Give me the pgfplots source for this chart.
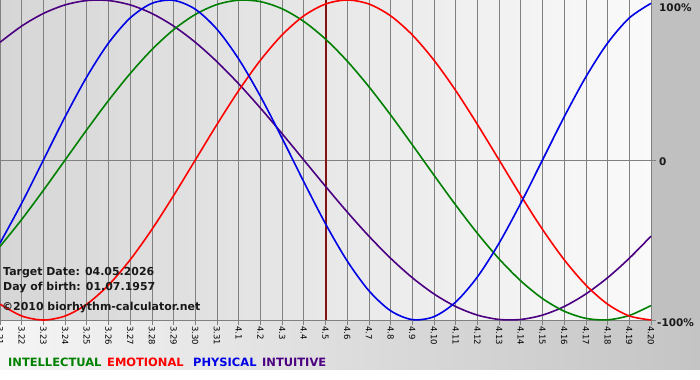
\documentclass[border=0pt]{standalone}
\usepackage{fontspec}
\setmainfont{DejaVu Sans}
\usepackage{pgfplots}
\pgfplotsset{compat=1.18}
\usepackage{pgfplotstable}

\definecolor{intel}{RGB}{0,128,0}
\definecolor{emot}{RGB}{255,0,0}
\definecolor{phys}{RGB}{0,0,230}
\definecolor{intu}{RGB}{75,0,130}
\definecolor{target}{RGB}{130,20,20}
\definecolor{gridc}{RGB}{128,128,128}
\definecolor{bgL}{RGB}{214,214,214}
\definecolor{bgR}{RGB}{250,250,250}
\definecolor{margin}{RGB}{192,192,192}
\definecolor{stripL}{RGB}{245,245,245}
\definecolor{stripR}{RGB}{196,196,196}
\definecolor{txt}{RGB}{25,25,25}

\pgfplotstableread{
i phys emot intel intu
0 -0.5196 -0.9010 -0.5406 0.7357
1 -0.2698 -0.9749 -0.3717 0.8372
2 0.0000 -1.0000 -0.1893 0.9158
3 0.2698 -0.9749 0.0000 0.9694
4 0.5196 -0.9010 0.1893 0.9966
5 0.7308 -0.7818 0.3717 0.9966
6 0.8879 -0.6235 0.5406 0.9694
7 0.9791 -0.4339 0.6901 0.9158
8 0.9977 -0.2225 0.8146 0.8372
9 0.9423 0.0000 0.9096 0.7357
10 0.8170 0.2225 0.9718 0.6142
11 0.6311 0.4339 0.9989 0.4759
12 0.3984 0.6235 0.9898 0.3247
13 0.1362 0.7818 0.9450 0.1646
14 -0.1362 0.9010 0.8660 0.0000
15 -0.3984 0.9749 0.7557 -0.1646
16 -0.6311 1.0000 0.6182 -0.3247
17 -0.8170 0.9749 0.4582 -0.4759
18 -0.9423 0.9010 0.2817 -0.6142
19 -0.9977 0.7818 0.0951 -0.7357
20 -0.9791 0.6235 -0.0951 -0.8372
21 -0.8879 0.4339 -0.2817 -0.9158
22 -0.7308 0.2225 -0.4582 -0.9694
23 -0.5196 0.0000 -0.6182 -0.9966
24 -0.2698 -0.2225 -0.7557 -0.9966
25 0.0000 -0.4339 -0.8660 -0.9694
26 0.2698 -0.6235 -0.9450 -0.9158
27 0.5196 -0.7818 -0.9898 -0.8372
28 0.7308 -0.9010 -0.9989 -0.7357
29 0.8879 -0.9749 -0.9718 -0.6142
30 0.9791 -1.0000 -0.9096 -0.4759
}\bio

\begin{document}
\begin{tikzpicture}
\useasboundingbox (0,-60bp) rectangle (700bp,320bp);
\fill[white] (0,-60bp) rectangle (700bp,320bp);
\shade[left color=bgL, right color=bgR] (0,0) rectangle (651bp,320bp);
\fill[margin] (651bp,0) rectangle (700bp,320bp);
\shade[left color=stripL, right color=stripR] (0,-49bp) rectangle (700bp,0);
\begin{axis}[
  at={(0,0)}, anchor=south west,
  scale only axis, width=651bp, height=320bp,
  xmin=0, xmax=30, ymin=-1, ymax=1,
  axis line style={draw=none},
  xtick={0,...,30},
  xticklabels={3.21,3.22,3.23,3.24,3.25,3.26,3.27,3.28,3.29,3.30,3.31,4.1,4.2,4.3,4.4,4.5,4.6,4.7,4.8,4.9,4.10,4.11,4.12,4.13,4.14,4.15,4.16,4.17,4.18,4.19,4.20},
  xtick pos=lower, ytick pos=right,
  tick align=outside, major tick length=5bp,
  tick style={gridc, line width=0.8bp},
  xmajorgrids, ymajorgrids,
  grid style={gridc, line width=0.8bp},
  ytick={-1,0}, yticklabels={,,},
  xticklabel style={rotate=-90, anchor=west, font=\fontsize{8.5}{9}\selectfont, inner sep=1bp},
  clip=false,
]
\addplot[target, line width=2bp] coordinates {(15,-1) (15,1)};
\addplot[intu, line width=1.6bp, smooth, no markers] table[x=i,y=intu]{\bio};
\addplot[intel, line width=1.6bp, smooth, no markers] table[x=i,y=intel]{\bio};
\addplot[emot, line width=1.6bp, smooth, no markers] table[x=i,y=emot]{\bio};
\addplot[phys, line width=1.6bp, smooth, no markers] table[x=i,y=phys]{\bio};
\end{axis}
\begin{scope}[every node/.style={inner sep=0pt, font=\bfseries\fontsize{11}{12}\selectfont, text=txt}]
\node[anchor=base west] at (3bp,44bp) {Target Date: 04.05.2026};
\node[anchor=base west] at (3bp,29.5bp) {Day of birth: 01.07.1957};
\node[anchor=base west] at (2bp,9.5bp) {©2010 biorhythm-calculator.net};
\end{scope}
\begin{scope}[every node/.style={inner sep=0pt, font=\bfseries\fontsize{10.5}{12}\selectfont, text=txt}]
\node[anchor=west] at (659bp,312bp) {100\%};
\node[anchor=west] at (659bp,158bp) {0};
\node[anchor=west] at (657bp,-3bp) {-100\%};
\end{scope}
\begin{scope}[every node/.style={inner sep=0pt, font=\bfseries\fontsize{11.5}{12}\selectfont}]
\node[anchor=base west, text=intel] at (8bp,-46.5bp) {INTELLECTUAL};
\node[anchor=base west, text=emot] at (107bp,-46.5bp) {EMOTIONAL};
\node[anchor=base west, text=phys] at (193bp,-46.5bp) {PHYSICAL};
\node[anchor=base west, text=intu] at (262bp,-46.5bp) {INTUITIVE};
\end{scope}
\end{tikzpicture}
\end{document}
